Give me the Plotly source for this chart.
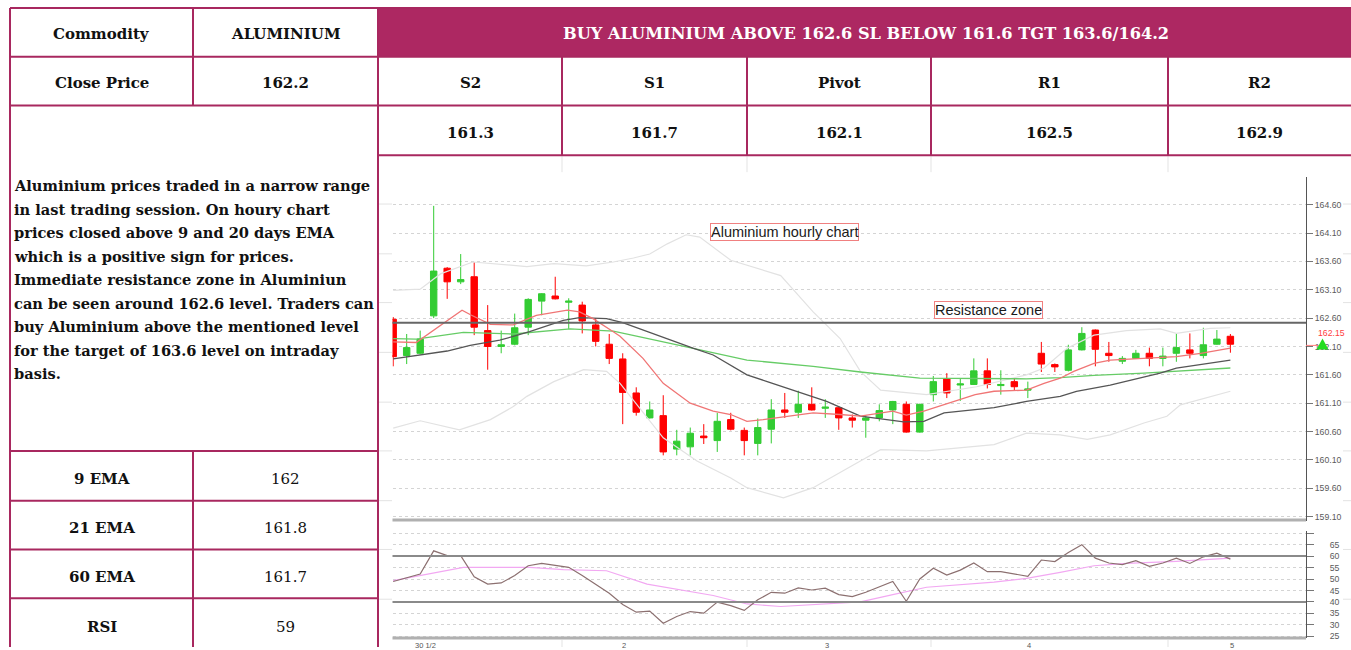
import plotly.graph_objects as go

W, H = 1351, 650

# ---------------- data ----------------
bar = list(range(63))
open_ = [162.58,161.94,161.98,162.64,163.48,163.24,163.33,162.38,162.10,162.14,
         162.44,162.90,162.99,162.88,162.83,162.48,162.14,161.88,161.28,160.84,
         160.88,160.29,160.33,160.52,160.44,160.81,160.62,160.39,160.64,160.98,
         160.94,161.08,161.01,161.02,160.84,160.80,160.84,160.98,161.08,160.59,
         161.25,161.53,161.42,161.43,161.67,161.41,161.48,161.33,161.98,161.78,
         161.68,162.04,162.39,161.98,161.84,161.89,161.98,161.89,161.98,162.04,
         161.94,162.14,162.28]
high = [162.62,162.32,162.38,164.58,163.50,163.73,163.59,162.83,162.38,162.68,
        162.95,163.04,163.33,162.95,162.89,162.60,162.32,161.98,161.38,161.13,
        161.24,160.63,160.67,160.73,160.93,160.93,160.67,160.83,161.17,161.28,
        161.32,161.38,161.17,161.05,160.90,160.88,161.08,161.14,161.13,161.09,
        161.58,161.63,161.54,161.89,161.89,161.68,161.54,161.48,162.18,161.80,
        162.13,162.44,162.40,162.18,161.93,162.04,162.08,162.08,162.33,162.33,
        162.43,162.39,162.32]
low = [161.75,161.79,161.96,162.60,162.94,163.20,162.30,161.69,161.98,162.12,
       162.30,162.65,162.93,162.41,162.33,162.10,161.79,160.73,160.88,160.83,
       160.18,160.18,160.18,160.38,160.24,160.62,160.18,160.18,160.39,160.84,
       160.84,160.97,160.84,160.63,160.67,160.49,160.78,160.73,160.58,160.58,
       161.13,161.19,161.14,161.42,161.36,161.25,161.32,161.19,161.65,161.65,
       161.66,162.03,161.75,161.83,161.79,161.88,161.75,161.75,161.83,161.89,
       161.89,162.13,161.99]
close = [161.92,162.08,162.23,163.43,163.24,163.28,162.44,162.10,162.13,162.43,
         162.93,163.03,162.94,162.90,162.55,162.19,161.89,161.29,160.94,160.98,
         160.24,160.43,160.57,160.49,160.78,160.64,160.44,160.67,160.98,160.94,
         161.08,160.98,161.03,160.84,160.80,160.84,160.97,161.13,160.59,161.08,
         161.48,161.28,161.44,161.67,161.43,161.43,161.39,161.35,161.79,161.74,
         162.04,162.33,162.05,161.94,161.89,161.98,161.89,161.93,162.08,161.98,
         162.13,162.23,162.14]

ema_fast_x = [0,1.7,5.1,5.8,7.2,8.9,10.6,12.9,13.8,14.8,16.3,16.8,18.5,20.0,22.0,23.7,25.0,26.2,27.4,
              29.9,31.1,33.1,34.6,37.0,38.0,39.3,40.8,42.0,43.1,44.5,46.9,48.2,49.4,50.4,51.9,
              53.1,55.6,58.0,59.8,62.0]
ema_fast_y = [162.18,162.17,162.74,162.65,162.49,162.48,162.65,162.74,162.71,162.59,162.36,162.28,
              161.89,161.45,161.10,160.96,160.90,160.78,160.81,160.90,160.93,160.90,160.87,160.96,
              160.89,160.96,161.07,161.16,161.25,161.31,161.33,161.45,161.54,161.66,161.80,161.86,
              161.89,161.92,161.98,162.07]

ema_mid_x = [0,4.0,5.7,7.9,10.1,12.6,13.8,15.8,17.0,18.8,22.2,23.7,26.2,27.7,29.9,32.1,34.6,37.8,
             39.3,40.8,44.5,46.9,49.4,50.6,53.1,56.8,58.0,62.0]
ema_mid_y = [161.88,162.02,162.12,162.21,162.36,162.56,162.61,162.59,162.52,162.36,162.07,161.95,
             161.60,161.48,161.31,161.13,160.87,160.77,160.78,160.93,161.02,161.13,161.22,161.31,
             161.42,161.63,161.72,161.86]

ema_slow_x = [0,1.7,5.2,8.9,13.1,16.3,21.2,26.2,31.1,34.6,39.0,46.9,49.4,51.9,55.6,58.0,62.0]
ema_slow_y = [162.24,162.23,162.35,162.32,162.41,162.37,162.12,161.86,161.75,161.65,161.54,161.53,
              161.55,161.59,161.63,161.66,161.72]

bb_up_x = [0,2.0,3.5,5.9,9.9,11.9,14.3,16.3,17.8,19.0,20.3,21.7,22.7,25.0,28.7,31.1,33.1,34.6,
           36.1,39.5,43.2,46.9,48.2,49.9,51.9,54.3,56.8,58.0,60.5,62.0]
bb_up_y = [163.09,163.11,163.38,163.59,163.51,163.56,163.52,163.59,163.66,163.73,163.91,164.07,
           164.03,163.62,163.35,162.71,162.24,161.66,161.33,161.25,161.39,161.60,161.72,162.07,
           162.30,162.38,162.41,162.33,162.42,162.43]

bb_lo_x = [0,2.0,4.9,7.2,8.9,9.9,11.9,14.1,15.8,16.8,20.0,22.5,25.0,26.2,28.9,31.1,34.6,36.1,
           39.5,44.5,46.9,49.4,51.4,53.1,55.6,57.3,58.3,60.5,62.0]
bb_lo_y = [160.66,160.79,160.63,160.81,161.04,161.22,161.48,161.69,161.66,161.45,160.49,160.08,
           159.78,159.61,159.43,159.61,160.08,160.28,160.26,160.37,160.57,160.54,160.46,160.54,
           160.75,160.87,161.07,161.22,161.31]

rsi_x = [0,2,3,4,5,6,7,8,9,10,11,12,13,14,15,16,17,18,19,20,21,22,23,24,25,26,27,28,29,30,
         31,32,33,34,35,37,38,39,40,41,42,43,44,45,47,48,49,50,51,52,53,54,55,56,57,58,59,60,61,62]
rsi_y = [48.9,52.2,62.3,60.2,60.2,51.0,47.8,48.3,51.5,55.8,56.8,55.8,55.1,51.5,47.8,43.8,38.9,
         35.5,36.0,30.7,33.6,35.8,35.1,39.9,38.4,36.3,40.9,44.2,43.8,46.1,45.2,46.0,43.2,42.3,
         44.2,48.9,40.3,50.0,54.7,51.7,53.9,57.0,53.2,53.2,51.2,58.3,57.6,61.6,65.0,59.1,57.0,
         56.3,58.0,55.5,57.0,59.1,56.8,59.7,61.3,58.7]

sig_x = [0,2,5.2,10.1,12.6,15.8,18.8,23.7,26.2,28.7,34.6,37.0,39.5,44.5,46.9,49.4,51.9,54.3,58.0,62.0]
sig_y = [49.3,51.5,55.1,55.1,54.1,53.6,47.8,42.8,39.1,38.0,40.0,43.2,46.4,48.6,50.3,52.9,55.8,
         56.8,57.7,59.1]

resistance_level = 162.52
rsi_levels = [60, 40]
last_price_label = "162.15"

price_ticks = [159.10,159.60,160.10,160.60,161.10,161.60,162.10,162.60,163.10,163.60,164.10,164.60]
rsi_ticks = [25,30,35,40,45,50,55,60,65,70]
rsi_tick_text = ["25","30","35","40","45","50","55","60","65",""]
day_labels = ["30 1/2", "2", "3", "4", "5"]
day_label_bars = [2.4, 17.1, 32.1, 47.1, 62.1]

# table text
head_left = ["Commodity", "ALUMINIUM"]
close_row = ["Close Price", "162.2"]
trade_call = "BUY ALUMINIUM ABOVE 162.6 SL BELOW 161.6 TGT 163.6/164.2"
level_names = ["S2", "S1", "Pivot", "R1", "R2"]
level_values = ["161.3", "161.7", "162.1", "162.5", "162.9"]
ind_names = ["9 EMA", "21 EMA", "60 EMA", "RSI"]
ind_values = ["162", "161.8", "161.7", "59"]
commentary = [
    "Aluminium prices traded in a narrow range",
    "in last trading session. On houry chart",
    "prices closed above 9 and 20 days EMA",
    "which is a positive sign for prices.",
    "Immediate resistance zone in Aluminiun",
    "can be seen around 162.6 level. Traders can",
    "buy Aluminium above the mentioned level",
    "for the target of 163.6 level on intraday",
    "basis.",
]

# ---------------- helpers (layout geometry in pixels) ----------------
def X(p):
    return p / W

def Y(p):
    return 1 - p / H

shapes = []
annotations = []

def seg(x0, y0, x1, y1, color, width):
    shapes.append(dict(type="line", xref="paper", yref="paper",
                       x0=X(x0), y0=Y(y0), x1=X(x1), y1=Y(y1),
                       line=dict(color=color, width=width), layer="above"))

def label(x, y, text, size, color="#111", bold=True, family="DejaVu Serif",
          xanchor="center", yanchor="middle"):
    annotations.append(dict(xref="paper", yref="paper", x=X(x), y=Y(y),
                            text=("<b>%s</b>" % text) if bold else text,
                            showarrow=False, xanchor=xanchor, yanchor=yanchor,
                            font=dict(family=family, size=size, color=color)))

TB = "#A8285F"
FILL = "#AD2862"
FAINT = "#e3e3e3"

# header fill
shapes.append(dict(type="rect", xref="paper", yref="paper", x0=X(378), x1=X(1351),
                   y0=Y(57), y1=Y(8), fillcolor=FILL, line=dict(width=0), layer="below"))

# faint table remnants around the chart picture
for yy in [205, 255, 304, 354, 404, 453, 503, 552, 602]:
    seg(379, yy, 392, yy, FAINT, 1)
    seg(1343, yy, 1351, yy, FAINT, 1)
for xx in [562, 747, 931, 1168]:
    seg(xx, 157, xx, 173, FAINT, 1)
    seg(xx, 643, xx, 650, FAINT, 1)

# table borders
for yy in [8, 57, 106]:
    seg(10, yy, 1351, yy, TB, 2)
seg(378, 156, 1351, 156, TB, 2)
for yy in [453, 503, 552, 601]:
    seg(10, yy, 378, yy, TB, 2)
seg(10, 8, 10, 650, TB, 2)
seg(378, 8, 378, 650, TB, 2)
seg(193, 8, 193, 106, TB, 2)
seg(193, 453, 193, 650, TB, 2)
for xx in [562, 747, 931, 1168]:
    seg(xx, 57, xx, 156, TB, 2)

# table text
SZ = 15
label(101.5, 34, head_left[0], SZ)
label(285.5, 34, head_left[1], SZ)
label(866, 34, trade_call, 16.2, color="white")
label(101.5, 83, close_row[0], SZ)
label(285.5, 83, close_row[1], SZ)
col_centers = [470, 654.5, 839, 1049.5, 1259.5]
for cx, nm, vv in zip(col_centers, level_names, level_values):
    label(cx, 83, nm, SZ)
    label(cx, 133.5, vv, SZ)
for cy, nm, vv in zip([481, 530.5, 580, 629.5], ind_names, ind_values):
    label(101.5, cy, nm, SZ)
    label(285.5, cy, vv, SZ, bold=False)
for k, line in enumerate(commentary):
    label(12, 186.5 + 23.6 * k, line, 14.6, xanchor="left")

# ---------------- chart ----------------
x_dom = [X(392.5), X(1306)]
x_rng = [-0.05, 67.6]

fig = go.Figure()
fig.add_trace(go.Candlestick(
    x=bar, open=open_, high=high, low=low, close=close,
    increasing=dict(line=dict(color="#33CC33", width=1), fillcolor="#33CC33"),
    decreasing=dict(line=dict(color="#FF0000", width=1), fillcolor="#FF0000"),
    xaxis="x", yaxis="y", showlegend=False, hoverinfo="skip"))

for xs, ys, col, wd in [(bb_up_x, bb_up_y, "#e2e2e2", 1.2),
                        (bb_lo_x, bb_lo_y, "#e2e2e2", 1.2),
                        (ema_slow_x, ema_slow_y, "#66cc66", 1.3),
                        (ema_mid_x, ema_mid_y, "#555555", 1.3),
                        (ema_fast_x, ema_fast_y, "#f07575", 1.3)]:
    fig.add_trace(go.Scatter(x=xs, y=ys, mode="lines", line=dict(color=col, width=wd),
                             xaxis="x", yaxis="y", showlegend=False, hoverinfo="skip"))

fig.add_trace(go.Scatter(x=sig_x, y=sig_y, mode="lines", line=dict(color="#f2a8f2", width=1.2),
                         xaxis="x2", yaxis="y2", showlegend=False, hoverinfo="skip"))
fig.add_trace(go.Scatter(x=rsi_x, y=rsi_y, mode="lines", line=dict(color="#8c7070", width=1.2),
                         xaxis="x2", yaxis="y2", showlegend=False, hoverinfo="skip"))

# reference lines
shapes.append(dict(type="line", xref="x domain", yref="y", x0=0, x1=1,
                   y0=resistance_level, y1=resistance_level,
                   line=dict(color="#666666", width=2), layer="above"))
for lv in rsi_levels:
    shapes.append(dict(type="line", xref="x2 domain", yref="y2", x0=0, x1=1, y0=lv, y1=lv,
                       line=dict(color="#8a8a8a", width=2), layer="above"))
# pane bottoms
seg(392.5, 522.5, 1306, 522.5, "#b0b0b0", 3)
seg(392.5, 641, 1306, 641, "#b0b0b0", 3)

# last price marker
seg(1306, 347, 1321, 347, "#ff8080", 1)
shapes.append(dict(type="path", xref="paper", yref="paper",
                   path="M %f,%f L %f,%f L %f,%f Z" % (X(1316.5), Y(351), X(1328.5), Y(351), X(1322.5), Y(340)),
                   fillcolor="#22dd22", line=dict(width=0), layer="above"))
label(1316, 334.5, last_price_label, 8.7, color="#ff4040", bold=False,
      family="Liberation Sans", xanchor="left")

# chart text boxes
for cx, cy, txt in [(784.5, 233, "Aluminium hourly chart"), (988, 311.5, "Resistance zone")]:
    annotations.append(dict(xref="paper", yref="paper", x=X(cx), y=Y(cy), text=txt,
                            showarrow=False, xanchor="center", yanchor="middle",
                            font=dict(family="Liberation Sans", size=14.5, color="#1a1a1a"),
                            bordercolor="#f08080", borderwidth=1, borderpad=0, bgcolor="white"))

# day labels on time axis
for b, t in zip(day_label_bars, day_labels):
    annotations.append(dict(xref="x2", yref="paper", x=b, y=Y(641.5), text=t, showarrow=False,
                            xanchor="center", yanchor="top",
                            font=dict(family="Liberation Sans", size=7.5, color="#555")))

axis_font = dict(family="Liberation Sans", size=8.7, color="#5a5a5a")
fig.update_layout(
    width=W, height=H, margin=dict(l=0, r=0, t=0, b=0),
    paper_bgcolor="white", plot_bgcolor="rgba(0,0,0,0)",
    showlegend=False, boxgap=0.32,
    xaxis=dict(domain=x_dom, range=x_rng, anchor="y", showgrid=False, zeroline=False,
               showticklabels=False, ticks="", showline=False, rangeslider=dict(visible=False),
               fixedrange=True),
    yaxis=dict(domain=[Y(523), Y(178)], range=[159.029, 165.086], anchor="x", side="right",
               tickvals=price_ticks, ticktext=["%.2f" % v for v in price_ticks],
               ticks="outside", ticklen=6, tickcolor="#777", tickfont=axis_font,
               showline=True, linecolor="#555", linewidth=1,
               showgrid=True, gridcolor="#d4d4d4", griddash="dot", gridwidth=1,
               zeroline=False, fixedrange=True),
    xaxis2=dict(domain=x_dom, range=x_rng, anchor="y2", showgrid=False, zeroline=False,
                showticklabels=False, ticks="", showline=False, fixedrange=True),
    yaxis2=dict(domain=[Y(641), Y(533)], range=[24.22, 71.17], anchor="x2", side="right",
                tickvals=rsi_ticks, ticktext=rsi_tick_text,
                ticks="outside", ticklen=7, tickcolor="#777", tickfont=axis_font,
                ticklabelstandoff=14,
                showline=True, linecolor="#555", linewidth=1,
                showgrid=True, gridcolor="#d4d4d4", griddash="dot", gridwidth=1,
                zeroline=False, fixedrange=True),
    shapes=shapes, annotations=annotations,
)

fig.write_html("out.html", config={"displayModeBar": False},
               post_script="document.body.style.margin='0';document.body.style.overflow='hidden';")
